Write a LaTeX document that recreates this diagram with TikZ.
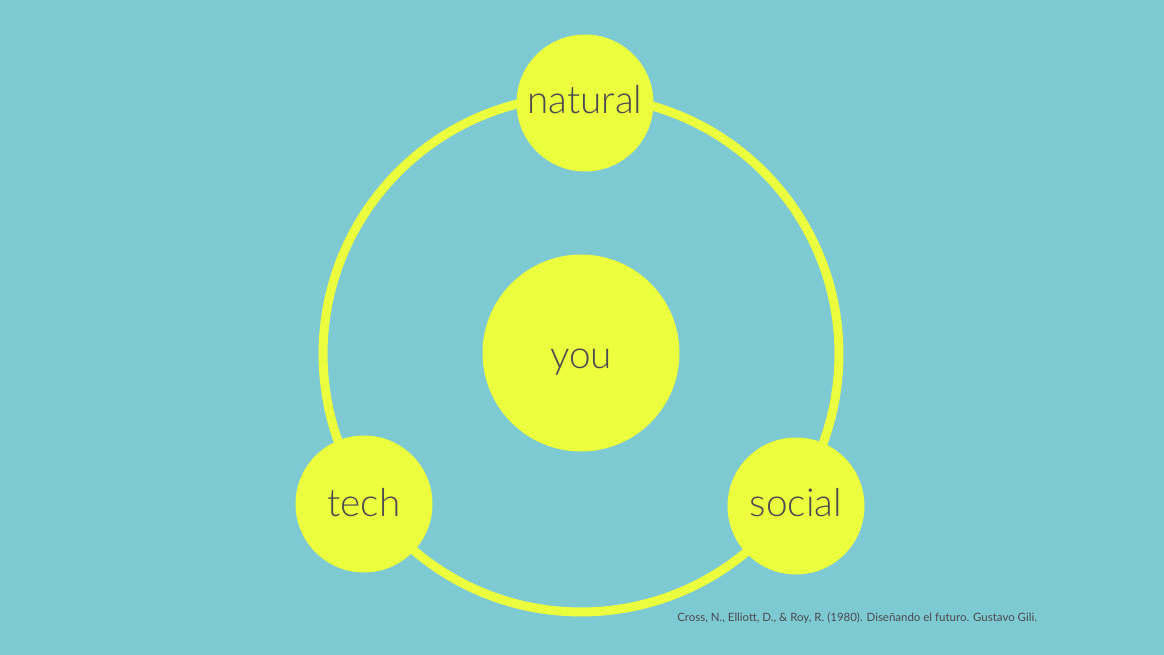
\documentclass[tikz,border=0pt]{standalone}
\usepackage{fontspec}
\setmainfont{Lato Light}
\newfontfamily\citefont{Lato}
\usetikzlibrary{positioning}
\definecolor{sea}{HTML}{7ECAD2}
\definecolor{lemon}{HTML}{EBFF3F}
\definecolor{ink}{HTML}{4B4A4F}

\tikzset{
  topic/.style={circle,fill=lemon,minimum size=2.74cm,inner sep=0pt,text=ink,
    font=\fontsize{22}{26}\selectfont,text height=#1,text depth=0pt},
  topic/.default=12.5pt,
  centre/.style={topic=18pt,minimum size=3.94cm}
}

\begin{document}
\begin{tikzpicture}[x=0.02cm,y=-0.02cm]
\fill[sea] (0,0) rectangle (1164,655);
\useasboundingbox (0,0) rectangle (1164,655);
\draw[lemon,line width=0.18cm] (581,354) circle [radius=5.16cm];
\node[centre] (you) at (581,353) {you};
\node[topic=11.5pt] (natural) at (585,103) {natural};
\node[topic=14.7pt] (tech) at (364,504) {tech};
\node[topic] (social) at (796,506) {social};
\node[text=ink,font=\citefont\fontsize{6.53}{8}\selectfont,anchor=west,inner sep=0pt] (cite) at (677,618)
  {Cross, N., Elliott, D., \& Roy, R. (1980). Diseñando el futuro. Gustavo Gili.};
\end{tikzpicture}
\end{document}
